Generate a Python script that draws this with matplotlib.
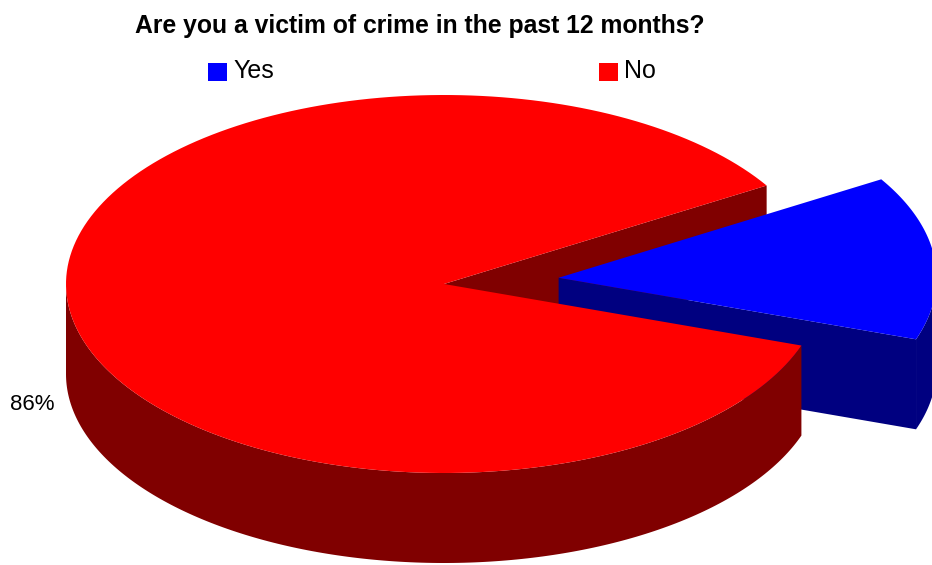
import numpy as np
import matplotlib
matplotlib.use("Agg")
import matplotlib.pyplot as plt
from matplotlib.patches import Polygon, Rectangle

# data
labels = ['Yes', 'No']
values = [14, 86]
top_colors = ['#0000ff', '#ff0000']
side_colors = ['#000080', '#800000']
explode = [0.305, 0.0]
title = 'Are you a victim of crime in the past 12 months?'

# pie geometry in pixel units (y grows downwards)
cx, cy = 444, 284
rx, ry = 378, 189
depth = 90
start = -19.0

fig = plt.figure(figsize=(9.32, 5.65), dpi=100)
ax = fig.add_axes([0, 0, 1, 1])
ax.set_xlim(0, 932)
ax.set_ylim(565, 0)
ax.axis('off')


def rim(ox, oy, t, dz=0):
    t = np.radians(t)
    return np.column_stack([ox + rx * np.cos(t), oy - ry * np.sin(t) + dz])


def top_face(ox, oy, a1, a2):
    t = np.linspace(a1, a2, 200)
    return np.vstack([[ox, oy], rim(ox, oy, t)])


def outer_wall(ox, oy, a1, a2):
    t = np.linspace(a1, a2, 200)
    return np.vstack([rim(ox, oy, t), rim(ox, oy, t[::-1], depth)])


def radial_face(ox, oy, a):
    p = rim(ox, oy, np.array([a]))[0]
    return np.array([[ox, oy], p, p + [0, depth], [ox, oy + depth]])


# slice angles
total = sum(values)
slices = []
a = start
for v, e in zip(values, explode):
    a2 = a + 360.0 * v / total
    mid = np.radians((a + a2) / 2)
    ox = cx + e * rx * np.cos(mid)
    oy = cy - e * ry * np.sin(mid)
    slices.append((a, a2, ox, oy))
    a = a2

(ya1, ya2, yox, yoy), (na1, na2, nox, noy) = slices

# back face of the big slice first
ax.add_patch(Polygon(radial_face(nox, noy, na1), closed=True,
                     facecolor=side_colors[1], edgecolor='none'))

# exploded slice
ax.add_patch(Polygon(radial_face(yox, yoy, ya1), closed=True,
                     facecolor=side_colors[0], edgecolor='none'))
ax.add_patch(Polygon(outer_wall(yox, yoy, ya1, min(ya2, 0)), closed=True,
                     facecolor=side_colors[0], edgecolor='none'))
ax.add_patch(Polygon(top_face(yox, yoy, ya1, ya2), closed=True,
                     facecolor=top_colors[0], edgecolor='none'))

# big slice front wall and top
ax.add_patch(Polygon(outer_wall(nox, noy, 180, na2), closed=True,
                     facecolor=side_colors[1], edgecolor='none'))
ax.add_patch(Polygon(top_face(nox, noy, na1, na2), closed=True,
                     facecolor=top_colors[1], edgecolor='none'))

# percentage label
ax.text(32, 410, '{}%'.format(values[1]), ha='center', va='baseline',
        fontsize=16, family='Liberation Sans')

# title
ax.text(420, 33, title, ha='center', va='baseline', fontsize=17.8,
        fontweight='bold', family='Liberation Sans')

# legend
for x0, lab, col in zip([208, 599], labels, top_colors):
    ax.add_patch(Rectangle((x0, 63), 19, 18, facecolor=col, edgecolor='none'))
    ax.text(x0 + 25, 78, lab, ha='left', va='baseline', fontsize=18,
            family='Liberation Sans')

fig.savefig('out.png', dpi=100)
